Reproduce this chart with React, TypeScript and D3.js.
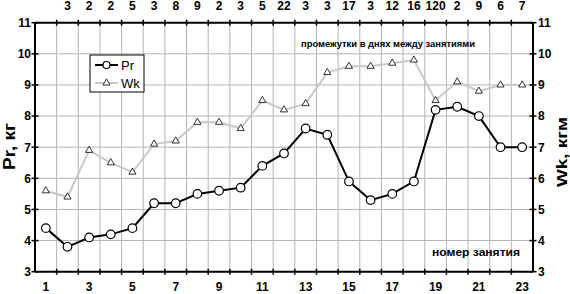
import React from "react";
import * as d3 from "d3";

const sessions = d3.range(1, 24);
const prValues = [4.4, 3.8, 4.1, 4.2, 4.4, 5.2, 5.2, 5.5, 5.6, 5.7, 6.4, 6.8, 7.6, 7.4, 5.9, 5.3, 5.5, 5.9, 8.2, 8.3, 8.0, 7.0, 7.0];
const wkValues = [5.6, 5.4, 6.9, 6.5, 6.2, 7.1, 7.2, 7.8, 7.8, 7.6, 8.5, 8.2, 8.4, 9.4, 9.6, 9.6, 9.7, 9.8, 8.5, 9.1, 8.8, 9.0, 9.0];
const gapLabels = ["3", "2", "2", "5", "3", "8", "9", "2", "3", "5", "22", "3", "3", "17", "3", "12", "16", "120", "2", "9", "6", "7"];
const yTicks = [3, 4, 5, 6, 7, 8, 9, 10, 11];

const W = 570, H = 294;
const L = 35, R = 533, T = 22.7, B = 271.7;
const FONT = "'Liberation Sans', Arial, sans-serif";

export default function App() {
  const x = d3.scaleBand<number>().domain(sessions).range([L, R]).padding(0);
  const cx = (i: number) => (x(i) as number) + x.bandwidth() / 2;
  const y = d3.scaleLinear().domain([3, 11]).range([B, T]);
  const pr = sessions.map((s, i) => ({ s, v: prValues[i] }));
  const wk = sessions.map((s, i) => ({ s, v: wkValues[i] }));
  const line = d3.line<{ s: number; v: number }>().x(d => cx(d.s)).y(d => y(d.v));
  const bounds = sessions.slice(1).map(s => x(s) as number);
  const tri = d3.symbol().type(d3.symbolTriangle).size(22)();
  const numStyle = { fontFamily: FONT, fontWeight: 700, fontSize: 12 } as const;

  return (
    <svg width={W} height={H} style={{ position: "absolute", left: 0, top: 0, background: "#fff" }}>
      <rect x={0} y={0} width={W} height={H} fill="#fff" />
      {/* grid */}
      {yTicks.slice(1, -1).map(t => (
        <line key={"h" + t} x1={L} x2={R} y1={y(t)} y2={y(t)} stroke="#b4b4b4" strokeWidth={1} />
      ))}
      {bounds.map((b, i) => (
        <line key={"v" + i} x1={b} x2={b} y1={T} y2={B} stroke="#b4b4b4" strokeWidth={1} />
      ))}
      {/* frame */}
      <line x1={L} x2={R} y1={T} y2={T} stroke="#000" strokeWidth={2} />
      <line x1={L} x2={R} y1={B} y2={B} stroke="#000" strokeWidth={2} />
      <line x1={L} x2={L} y1={T} y2={B} stroke="#000" strokeWidth={2} />
      <line x1={R} x2={R} y1={T} y2={B} stroke="#000" strokeWidth={2} />
      {/* ticks */}
      {yTicks.map(t => (
        <g key={"yt" + t}>
          <line x1={L - 3.5} x2={L + 3.5} y1={y(t)} y2={y(t)} stroke="#000" strokeWidth={1.5} />
          <line x1={R - 3.5} x2={R + 3.5} y1={y(t)} y2={y(t)} stroke="#000" strokeWidth={1.5} />
          <text x={31} y={y(t)} dy="0.36em" textAnchor="end" {...numStyle}>{t}</text>
          <text x={538} y={y(t)} dy="0.36em" textAnchor="start" {...numStyle}>{t}</text>
        </g>
      ))}
      {bounds.map((b, i) => (
        <g key={"xt" + i}>
          <line x1={b} x2={b} y1={T - 3} y2={T + 3} stroke="#000" strokeWidth={1.5} />
          <line x1={b} x2={b} y1={B - 3} y2={B + 3} stroke="#000" strokeWidth={1.5} />
        </g>
      ))}
      {/* bottom labels */}
      {sessions.filter(s => s % 2 === 1).map(s => (
        <text key={"bl" + s} x={cx(s)} y={290.5} textAnchor="middle" {...numStyle}>{s}</text>
      ))}
      {/* top gap labels */}
      {gapLabels.map((g, i) => (
        <text key={"tl" + i} x={cx(sessions[i + 1])} y={10} textAnchor="middle" {...numStyle}>{g}</text>
      ))}
      {/* Wk series */}
      <path d={line(wk) || ""} fill="none" stroke="#c8c8c8" strokeWidth={2} />
      {wk.map(d => (
        <path key={"w" + d.s} d={tri || ""} transform={`translate(${cx(d.s)},${y(d.v)})`} fill="#fff" stroke="#000" strokeWidth={0.8} />
      ))}
      {/* Pr series */}
      <path d={line(pr) || ""} fill="none" stroke="#000" strokeWidth={2} />
      {pr.map(d => (
        <circle key={"p" + d.s} cx={cx(d.s)} cy={y(d.v)} r={4.3} fill="#fff" stroke="#000" strokeWidth={1.2} />
      ))}
      {/* legend */}
      <rect x={90} y={55} width={54} height={37} fill="#fff" stroke="#000" strokeWidth={1} />
      <line x1={95} x2={118} y1={65} y2={65} stroke="#000" strokeWidth={2} />
      <circle cx={106.5} cy={65} r={3.5} fill="#fff" stroke="#000" strokeWidth={1.2} />
      <text x={121} y={65} dy="0.36em" fontFamily={FONT} fontSize={13}>Pr</text>
      <line x1={95} x2={118} y1={83} y2={83} stroke="#c8c8c8" strokeWidth={2} />
      <path d={tri || ""} transform="translate(106.5,83)" fill="#fff" stroke="#000" strokeWidth={0.8} />
      <text x={121} y={83} dy="0.36em" fontFamily={FONT} fontSize={13}>Wk</text>
      {/* annotations */}
      <text x={301} y={47} fontFamily={FONT} fontWeight={700} fontSize={9.5} textLength={174} lengthAdjust="spacingAndGlyphs">промежутки в днях между занятиями</text>
      <text x={432} y={256} fontFamily={FONT} fontWeight={700} fontSize={11} textLength={88} lengthAdjust="spacingAndGlyphs">номер занятия</text>
      {/* axis titles */}
      <text transform="translate(15,146.5) rotate(-90)" textAnchor="middle" fontFamily={FONT} fontWeight={700} fontSize={16} textLength={47} lengthAdjust="spacingAndGlyphs">Pr, кг</text>
      <text transform="translate(567,152) rotate(-90)" textAnchor="middle" fontFamily={FONT} fontWeight={700} fontSize={15.5} textLength={70} lengthAdjust="spacingAndGlyphs">Wk, кгм</text>
    </svg>
  );
}
